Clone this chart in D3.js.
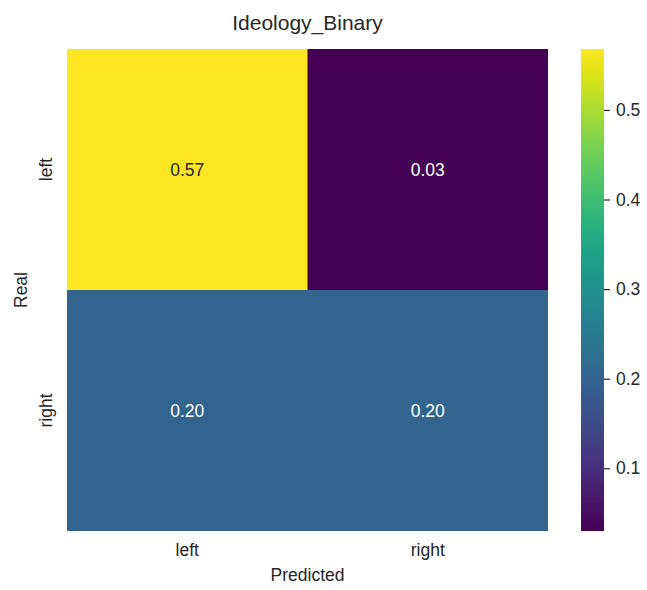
<!DOCTYPE html>
<html>
<head>
<meta charset="utf-8">
<script src="https://cdn.jsdelivr.net/npm/d3@7"></script>
<style>
  body { margin: 0; background: #fff; }
  svg text { font-family: "Liberation Sans", Arial, sans-serif; fill: #262626; }
</style>
</head>
<body>
<svg id="chart" width="647" height="590"></svg>
<script>
// Confusion matrix for the binary ideology classifier (normalised by total)
const realLabels = ["left", "right"];
const predictedLabels = ["left", "right"];
const rowLeft = [0.568, 0.030];
const rowRight = [0.201, 0.201];
const colorbarTicks = [0.1, 0.2, 0.3, 0.4, 0.5];

const matrix = [rowLeft, rowRight];
const cells = [];
matrix.forEach((row, i) => row.forEach((v, j) => cells.push({ real: realLabels[i], pred: predictedLabels[j], value: v })));

const svg = d3.select("#chart");
const plot = { left: 67, right: 548, top: 49, bottom: 531 };
const fs = "17.5px";

const x = d3.scaleBand().domain(predictedLabels).range([plot.left, plot.right]);
const y = d3.scaleBand().domain(realLabels).range([plot.top, plot.bottom]);

const vmin = d3.min(cells, d => d.value);
const vmax = d3.max(cells, d => d.value);
const color = d3.scaleSequential(d3.interpolateViridis).domain([vmin, vmax]);

// cells (slight overlap hides anti-aliasing seams between equal colours)
svg.append("g").selectAll("rect").data(cells).join("rect")
  .attr("x", d => x(d.pred))
  .attr("y", d => y(d.real))
  .attr("width", d => x.bandwidth() + (d.pred === predictedLabels[0] ? 0.5 : 0))
  .attr("height", d => y.bandwidth() + (d.real === realLabels[0] ? 0.5 : 0))
  .attr("fill", d => color(d.value));

// annotations
svg.append("g").selectAll("text").data(cells).join("text")
  .attr("x", d => x(d.pred) + x.bandwidth() / 2)
  .attr("y", d => y(d.real) + y.bandwidth() / 2)
  .attr("text-anchor", "middle")
  .attr("dominant-baseline", "central")
  .style("font-size", fs)
  .style("fill", d => (d.value - vmin) / (vmax - vmin) > 0.6 ? "#262626" : "#ffffff")
  .text(d => d3.format(".2f")(d.value));

// x axis
const xAxis = svg.append("g")
  .attr("transform", `translate(0,${plot.bottom})`)
  .call(d3.axisBottom(x).tickSize(0).tickPadding(13));
xAxis.select(".domain").remove();
xAxis.selectAll("text").style("font-size", fs).attr("fill", "#262626");

// y axis
const yAxis = svg.append("g")
  .attr("transform", `translate(${plot.left},0)`)
  .call(d3.axisLeft(y).tickSize(0).tickPadding(0));
yAxis.select(".domain").remove();
yAxis.selectAll(".tick text")
  .attr("x", 0).attr("dy", 0)
  .attr("text-anchor", "middle")
  .attr("transform", "translate(-15,0) rotate(-90)")
  .style("font-size", fs).attr("fill", "#262626");

// axis titles
svg.append("text")
  .attr("x", (plot.left + plot.right) / 2).attr("y", 581)
  .attr("text-anchor", "middle").style("font-size", fs)
  .text("Predicted");
svg.append("text")
  .attr("transform", `translate(27,${(plot.top + plot.bottom) / 2}) rotate(-90)`)
  .attr("text-anchor", "middle").style("font-size", fs)
  .text("Real");

// title
svg.append("text")
  .attr("x", (plot.left + plot.right) / 2).attr("y", 30)
  .attr("text-anchor", "middle").style("font-size", "21px")
  .text("Ideology_Binary");

// colorbar
const cb = { left: 581, width: 23 };
const cbScale = d3.scaleLinear().domain([vmin, vmax]).range([plot.bottom, plot.top]);
const defs = svg.append("defs");
const grad = defs.append("linearGradient").attr("id", "cbgrad")
  .attr("x1", 0).attr("y1", 1).attr("x2", 0).attr("y2", 0);
d3.range(0, 1.0001, 0.05).forEach(t => {
  grad.append("stop").attr("offset", t).attr("stop-color", d3.interpolateViridis(t));
});
svg.append("rect")
  .attr("x", cb.left).attr("y", plot.top)
  .attr("width", cb.width).attr("height", plot.bottom - plot.top)
  .attr("fill", "url(#cbgrad)");
const cbAxis = svg.append("g")
  .attr("transform", `translate(${cb.left + cb.width},0)`)
  .call(d3.axisRight(cbScale).tickValues(colorbarTicks).tickFormat(d3.format(".1f")).tickSize(6).tickPadding(6));
cbAxis.select(".domain").remove();
cbAxis.selectAll("line").attr("stroke", "#262626").attr("stroke-width", 1.2);
cbAxis.selectAll("text").style("font-size", fs).attr("fill", "#262626");
</script>
</body>
</html>
